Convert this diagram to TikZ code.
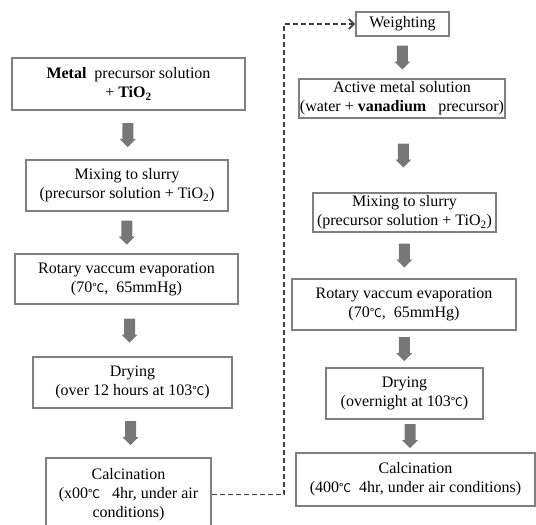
\documentclass[tikz,border=0pt]{standalone}
\usepackage{fontspec}
\setmainfont{Liberation Serif}
\newfontfamily\cjk{Noto Sans CJK KR}
\usetikzlibrary{arrows.meta,calc}
\newcommand\dgc{{\cjk\fontsize{12}{12}\selectfont ℃}}
\newcommand\tio{TiO\textsubscript{2}}
\definecolor{boxgray}{HTML}{7F7F7F}
\definecolor{arrgray}{HTML}{777777}
\definecolor{dashgray}{HTML}{404040}
\tikzset{
  box/.style={draw=boxgray,line width=1.8pt,fill=white,align=center,inner sep=0pt,
    font=\rmfamily\fontsize{16}{19}\selectfont,text=black},
  blk/.pic={\fill[arrgray] (-5.5,12) -- (5.5,12) -- (5.5,-4) -- (8,-4) -- (0,-12) -- (-8,-4) -- (-5.5,-4) -- cycle;},
  feedback/.style={draw=dashgray,line width=1.8pt,dash pattern=on 5pt off 3pt,
    -{Straight Barb[length=5pt,width=10pt,line width=1.8pt]}}
}
\begin{document}
\begin{tikzpicture}[x=1pt,y=1pt]
\useasboundingbox (0,0) rectangle (536,-525);
% left column
\node[box,minimum width=233pt,minimum height=52pt] (b1) at (128.5,-84)
  {\textbf{Metal}\ \ precursor solution\\+ \textbf{\tio}};
\node[box,minimum width=202pt,minimum height=51pt] (b2) at (127,-185.5)
  {Mixing to slurry\\(precursor solution + \tio)};
\node[box,minimum width=223pt,minimum height=50pt] (b3) at (126.5,-279)
  {Rotary vaccum evaporation\\(70\dgc,\ \ 65mmHg)};
\node[box,minimum width=199pt,minimum height=51pt] (b4) at (132.5,-382.5)
  {Drying\\(over 12 hours at 103\dgc)};
\node[box,minimum width=165pt,minimum height=73pt] (b5) at (128.5,-494.5)
  {Calcination\\(x00\dgc\ \ \ 4hr, under air\\conditions)};
% right column
\node[box,minimum width=93pt,minimum height=24pt] (w) at (402.5,-24) {Weighting};
\node[box,minimum width=206pt,minimum height=39pt] (r1) at (402,-98.5)
  {Active metal solution\\(water + \textbf{vanadium}\ \ \ precursor)};
\node[box,minimum width=183pt,minimum height=39pt] (r2) at (404.5,-212.5)
  {Mixing to slurry\\(precursor solution + \tio)};
\node[box,minimum width=224pt,minimum height=51pt] (r3) at (404,-304.5)
  {Rotary vaccum evaporation\\(70\dgc,\ \ 65mmHg)};
\node[box,minimum width=157pt,minimum height=51pt] (r4) at (404.5,-393.5)
  {Drying\\(overnight at 103\dgc)};
\node[box,minimum width=239pt,minimum height=53pt] (r5) at (415.5,-479.5)
  {Calcination\\(400\dgc\ \ 4hr, under air conditions)};
% block arrows
\pic at ($(b1.south)!.5!(b2.north)$) {blk};
\pic at ($(b2.south)!.5!(b3.north)$) {blk};
\pic at ($(b3.south)!.5!(b4.north)$) {blk};
\pic at ($(b4.south)!.5!(b5.north)$) {blk};
\pic at ($(w.south)!.5!(r1.north)$) {blk};
\pic at ($(r1.south)!.5!(r2.north)$) {blk};
\pic at ($(r2.south)!.5!(r3.north)$) {blk};
\pic at ($(r3.south)!.5!(r4.north)$) {blk};
\pic at ($(r4.south)!.5!(r5.north)$) {blk};
% feedback
\coordinate (turn) at (284,-24);
\draw[feedback] (b5.east) -| (turn) -- (w.west);
\end{tikzpicture}
\end{document}
